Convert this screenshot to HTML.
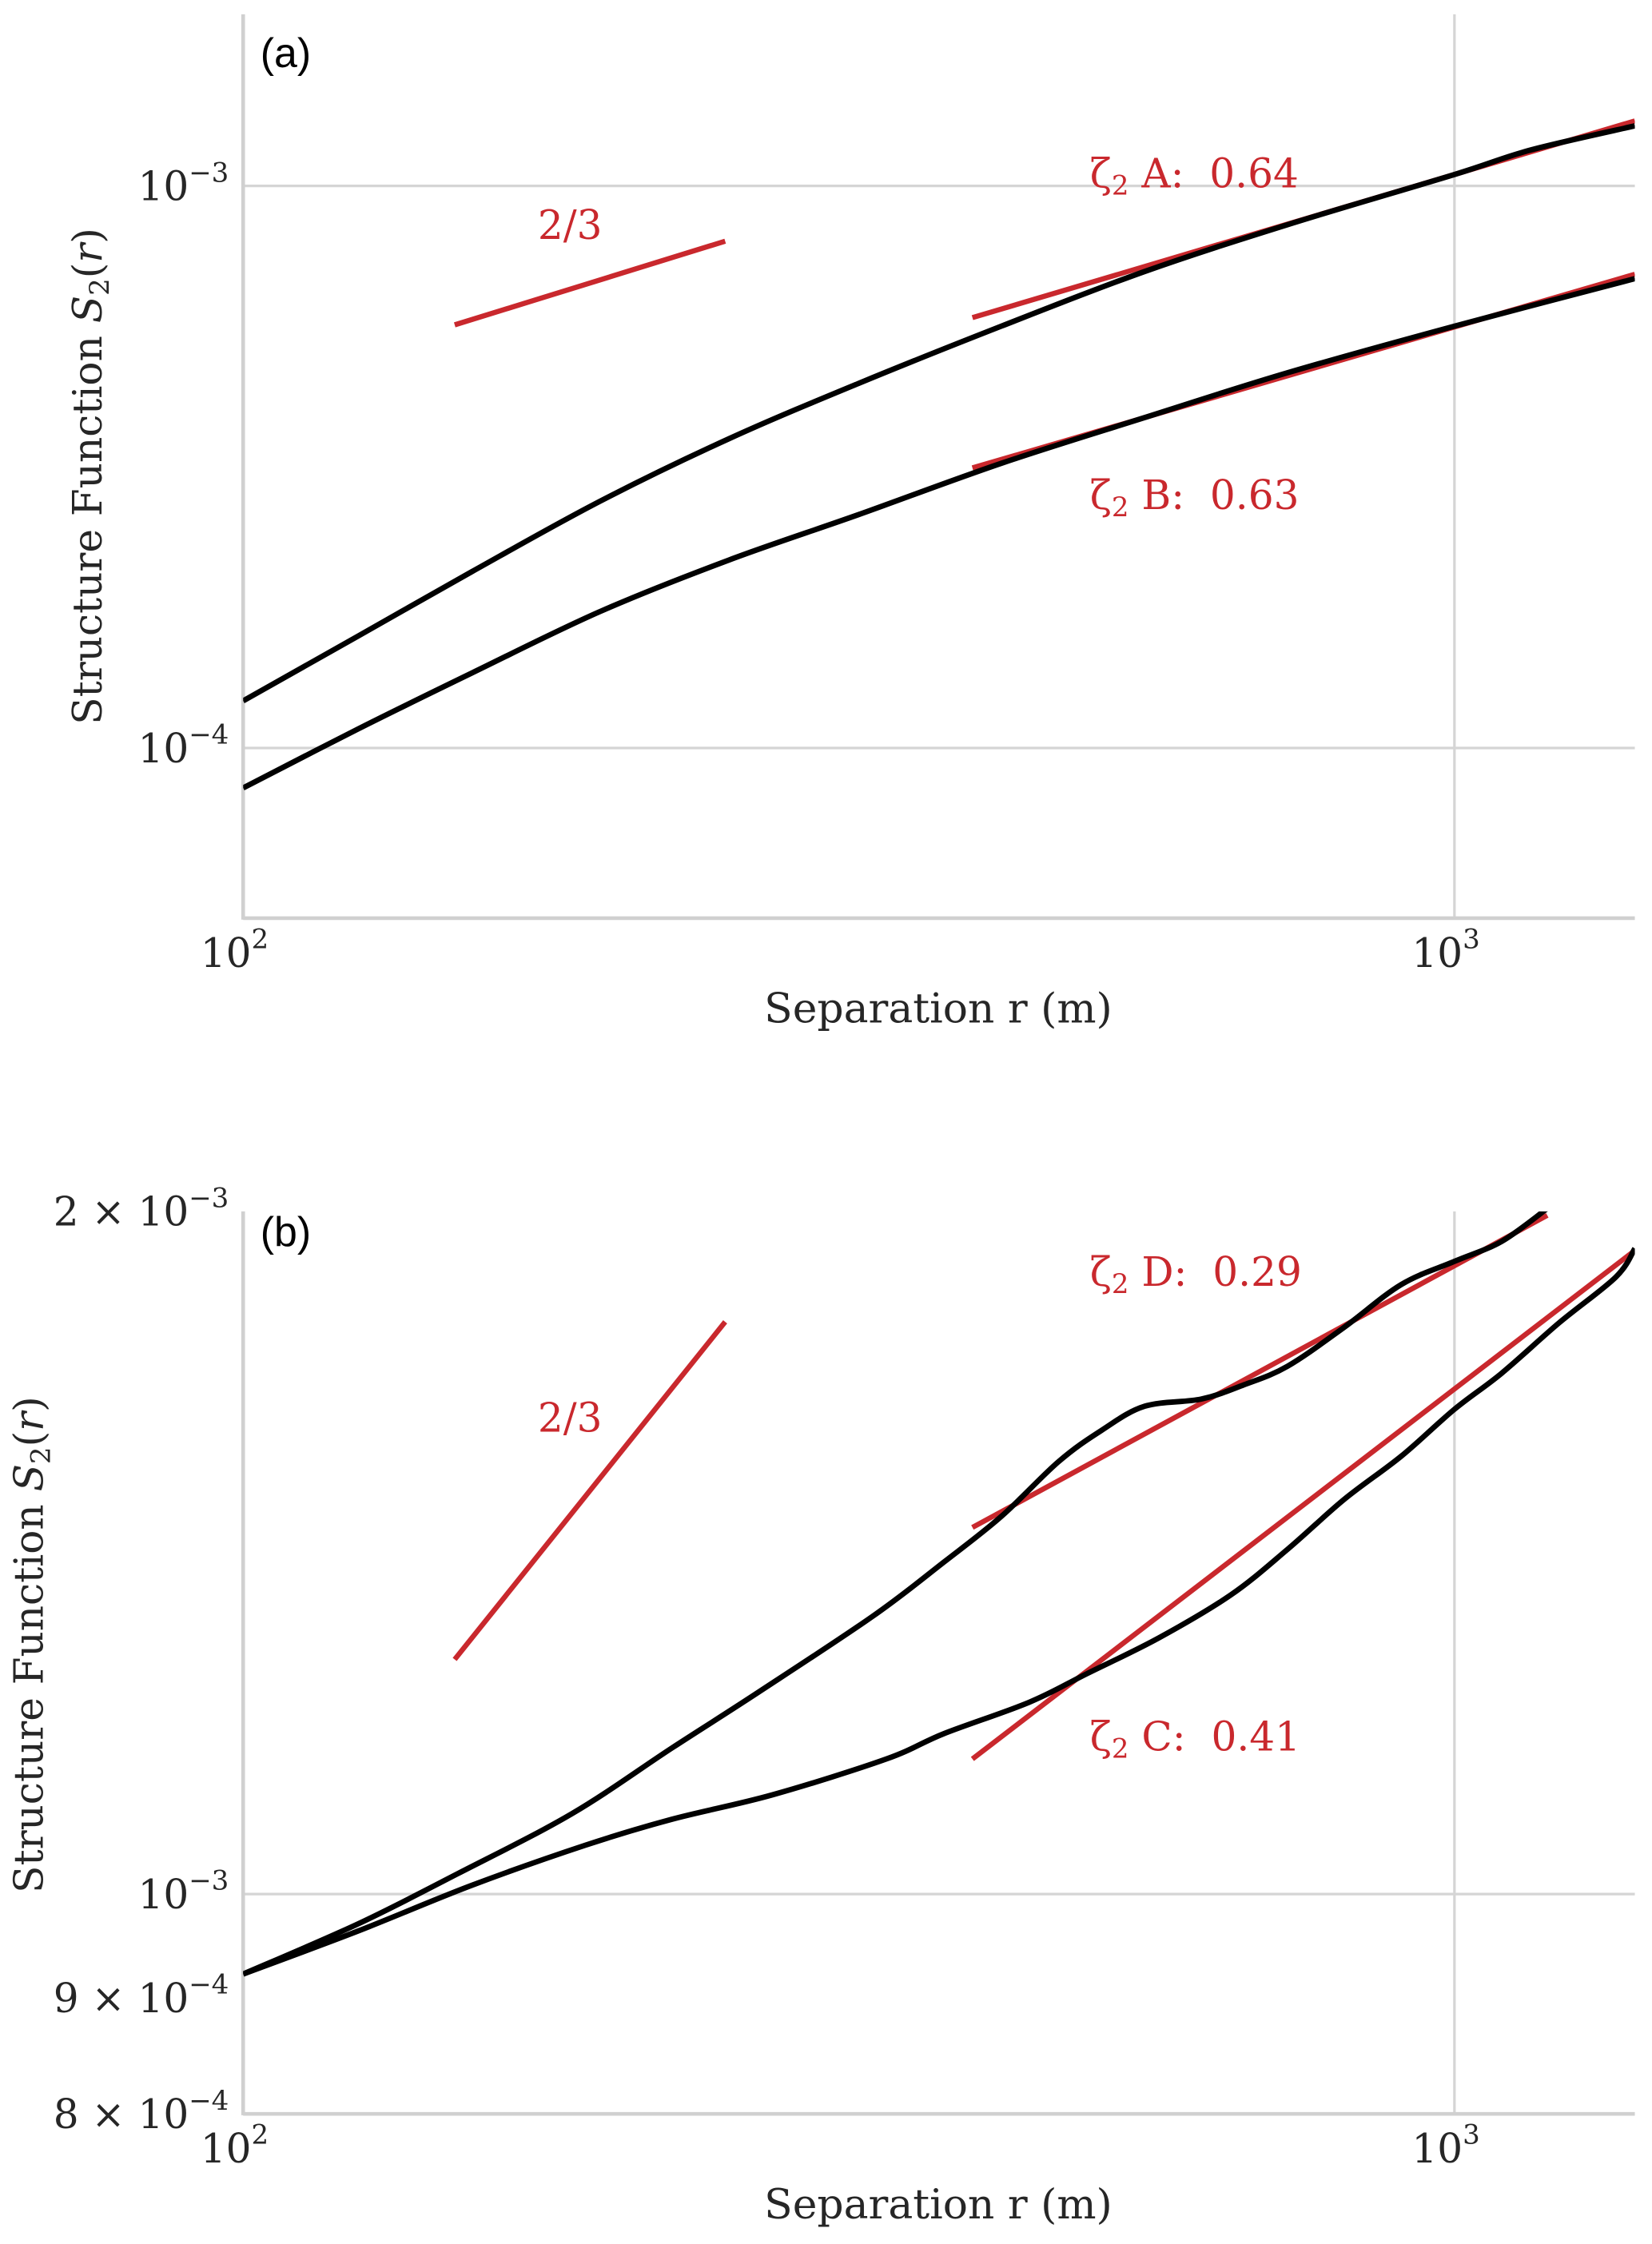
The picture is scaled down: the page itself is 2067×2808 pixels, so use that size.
<!DOCTYPE html>
<html><head><meta charset="utf-8"><style>
html,body{margin:0;padding:0;background:#fff;}
svg{display:block;}
text{white-space:pre;}
.t{font-family:"DejaVu Serif","Liberation Serif",serif;fill:#262626;}
.r{font-family:"DejaVu Serif","Liberation Serif",serif;fill:#c9282d;}
.p{font-family:"Liberation Sans","DejaVu Sans",sans-serif;fill:#000;}
</style></head><body>
<svg id="fig" width="2067" height="2808" viewBox="0 0 1155 1569" preserveAspectRatio="none" xmlns="http://www.w3.org/2000/svg">
<g id="pa"></g>
<g id="pb"></g>
</svg>
<script>
// Panel (a) data
const aR = [100,124.3,154.5,197.2,251.8,321.9,422.6,554.6,727.8,1000,1155,1409];
const aSeriesA = [1.213e-4,1.58e-4,2.06e-4,2.75e-4,3.55e-4,4.45e-4,5.63e-4,7.04e-4,8.53e-4,1.048e-3,1.158e-3,1.279e-3];
const aRB = [100,124.3,154.5,197.2,251.8,321.9,422.6,554.6,727.8,1000,1409];
const aSeriesB = [8.49e-5,1.08e-4,1.36e-4,1.75e-4,2.16e-4,2.60e-4,3.21e-4,3.87e-4,4.65e-4,5.63e-4,6.84e-4];
// fits: [r0, r1, S at r0, slope]
const aFitRef = [149.5, 250, 5.66e-4, 2/3];
const aFitA = [400, 1409, 5.83e-4, 0.64];
const aFitB = [400, 1409, 3.15e-4, 0.63];
// Panel (b) data
const bRD = [100,124.3,150.4,186.8,226,266,331,379,423,471,511,555,618,670,728,811,904,1000,1094,1193];
const bSeriesD = [9.22e-4,9.70e-4,1.021e-3,1.085e-3,1.160e-3,1.227e-3,1.326e-3,1.401e-3,1.468e-3,1.551e-3,1.601e-3,1.641e-3,1.653e-3,1.677e-3,1.709e-3,1.778e-3,1.857e-3,1.901e-3,1.940e-3,2.006e-3];
const bRC = [100,124.3,154.5,191.8,226,273.5,339.6,379,445.6,497.6,570,653.8,728,811,904,1000,1094,1220,1359,1409];
const bSeriesC = [9.22e-4,9.63e-4,1.009e-3,1.051e-3,1.079e-3,1.106e-3,1.147e-3,1.177e-3,1.215e-3,1.251e-3,1.297e-3,1.355e-3,1.419e-3,1.493e-3,1.560e-3,1.636e-3,1.697e-3,1.786e-3,1.871e-3,1.926e-3];
const bFitRef = [149.5, 250, 1.269e-3, 2/3];
const bFitD = [400, 1193, 1.451e-3, 0.29];
const bFitC = [400, 1409, 1.147e-3, 0.41];
const xTickVals = [100, 1000];
const xTickExp = ["2", "3"];

const NS = "http://www.w3.org/2000/svg";
function mk(parent, tag, attrs){const e=document.createElementNS(NS,tag);for(const k in attrs)e.setAttribute(k,attrs[k]);parent.appendChild(e);return e;}
function smooth(pts){
  let d='M'+pts[0][0].toFixed(2)+','+pts[0][1].toFixed(2);
  for(let i=0;i<pts.length-1;i++){
    const p0=pts[Math.max(0,i-1)],p1=pts[i],p2=pts[i+1],p3=pts[Math.min(pts.length-1,i+2)];
    const c1=[p1[0]+(p2[0]-p0[0])/6,p1[1]+(p2[1]-p0[1])/6];
    const c2=[p2[0]-(p3[0]-p1[0])/6,p2[1]-(p3[1]-p1[1])/6];
    d+=' C'+c1[0].toFixed(2)+','+c1[1].toFixed(2)+' '+c2[0].toFixed(2)+','+c2[1].toFixed(2)+' '+p2[0].toFixed(2)+','+p2[1].toFixed(2);
  }
  return d;
}

function panel(g, cfg){
  const L=170,R=1143,T=cfg.top,B=cfg.bottom;
  const lx0=2, lx1=Math.log10(1409);
  const x=r=>L+(Math.log10(r)-lx0)/(lx1-lx0)*(R-L);
  const y=s=>T+(cfg.ly1-Math.log10(s))/(cfg.ly1-cfg.ly0)*(B-T);
  const clipId='clip'+cfg.tag;
  const cp=mk(g,'clipPath',{id:clipId}); mk(cp,'rect',{x:L,y:T,width:R-L,height:B-T});
  cfg.yTicks.forEach((v,i)=>{
    if(cfg.yGrid[i]){
      const gl=mk(g,'line',{x1:L,x2:R,y1:y(v),y2:y(v),stroke:'#d5d5d5','stroke-width':1.8});
       
    }
    const t=mk(g,'text',{x:160,y:y(v)+10,'text-anchor':'end','font-size':28,class:'t'});
     
    const lab=cfg.yLabels[i];
    t.appendChild(document.createTextNode(lab[0]));
    const s=mk(t,'tspan',{dy:-13,'font-size':19}); s.textContent=lab[1];
  });
  xTickVals.forEach((v,i)=>{
    if(i>0){const gl=mk(g,'line',{x1:x(v),x2:x(v),y1:T,y2:B,stroke:'#d5d5d5','stroke-width':1.8});
     }
    const t=mk(g,'text',{x:x(v)-6,y:B+34,'text-anchor':'middle','font-size':28,class:'t'});
     
    t.appendChild(document.createTextNode('10'));
    const s=mk(t,'tspan',{dy:-13,'font-size':19}); s.textContent=xTickExp[i];
  });
  const sp1=mk(g,'line',{x1:L,x2:L,y1:T,y2:B+1,stroke:'#d0d0d0','stroke-width':2.6});
   
  const sp2=mk(g,'line',{x1:L,x2:R,y1:B,y2:B,stroke:'#d0d0d0','stroke-width':2.6});
   
  const cg=mk(g,'g',{'clip-path':'url(#'+clipId+')'});
  cfg.fits.forEach(f=>{
    const s0=f[0][2], s1=s0*Math.pow(f[0][1]/f[0][0],f[0][3]);
    const ln=mk(cg,'line',{x1:x(f[0][0]),y1:y(s0),x2:x(f[0][1]),y2:y(s1),stroke:'#c9282d','stroke-width':3.6});
     
  });
  cfg.series.forEach(sr=>{
    const pts=sr[0].map((r,i)=>[x(r),y(sr[1][i])]);
    const p=mk(cg,'path',{d:smooth(pts),fill:'none',stroke:'#000','stroke-width':3.8,'stroke-linejoin':'round'});
     
  });
  const pl=mk(g,'text',{x:182,y:T+cfg.labdy,'font-size':29,class:'p'}); pl.textContent=cfg.label;
   
  cfg.texts.forEach(tx=>{
    const t=mk(g,'text',{x:tx[0],y:tx[1],'font-size':28,class:'r'});
     
    if(tx[2].startsWith('ζ')){
      t.appendChild(document.createTextNode('ζ'));
      const s=mk(t,'tspan',{dy:5,'font-size':19}); s.textContent='2';
      const s2=mk(t,'tspan',{dy:-5}); s2.textContent=tx[2].slice(1);
    } else t.textContent=tx[2];
  });
  const xt=mk(g,'text',{x:656,y:B+73,'text-anchor':'middle','font-size':29,class:'t'});
  xt.textContent='Separation r (m)';
   
  const yt=mk(g,'text',{x:0,y:0,'text-anchor':'middle','font-size':28,class:'t',transform:`translate(${cfg.ytx},${cfg.yty}) rotate(-90)`});
   
  yt.appendChild(document.createTextNode('Structure Function '));
  const i1=mk(yt,'tspan',{'font-style':'italic'}); i1.textContent='S';
  const i2=mk(yt,'tspan',{dy:5,'font-size':19}); i2.textContent='2';
  const i3=mk(yt,'tspan',{dy:-5}); i3.textContent='(';
  const i4=mk(yt,'tspan',{'font-style':'italic'}); i4.textContent='r';
  const i5=mk(yt,'tspan',{}); i5.textContent=')';
}
panel(document.getElementById('pa'),{tag:'a',top:10,bottom:642,ly1:-3+120/393,ly0:-4-119/393,
  yTicks:[1e-3,1e-4],yGrid:[true,true],yLabels:[['10','−3'],['10','−4']],
  fits:[[aFitRef,'slope-2-3-ref'],[aFitA,'fit-line-a'],[aFitB,'fit-line-b']],
  series:[[aR,aSeriesA,'series-a'],[aRB,aSeriesB,'series-b']],
  label:'(a)',labdy:37,
  texts:[[376,167,'2/3','label-2-3'],[762,131,'ζ A:  0.64','label-zeta-a'],[762,356,'ζ B:  0.63','label-zeta-b']],
  ytx:71,yty:333});
panel(document.getElementById('pb'),{tag:'b',top:847,bottom:1478,ly1:Math.log10(2e-3),ly0:Math.log10(8e-4),
  yTicks:[2e-3,1e-3,9e-4,8e-4],yGrid:[false,true,false,false],yLabels:[['2 × 10','−3'],['10','−3'],['9 × 10','−4'],['8 × 10','−4']],
  fits:[[bFitRef,'slope-2-3-ref'],[bFitD,'fit-line-d'],[bFitC,'fit-line-c']],
  series:[[bRD,bSeriesD,'series-d'],[bRC,bSeriesC,'series-c']],
  label:'(b)',labdy:24,
  texts:[[376,1001,'2/3','label-2-3'],[762,899,'ζ D:  0.29','label-zeta-d'],[762,1224,'ζ C:  0.41','label-zeta-c']],
  ytx:30,yty:1150});
</script>
</body></html>
